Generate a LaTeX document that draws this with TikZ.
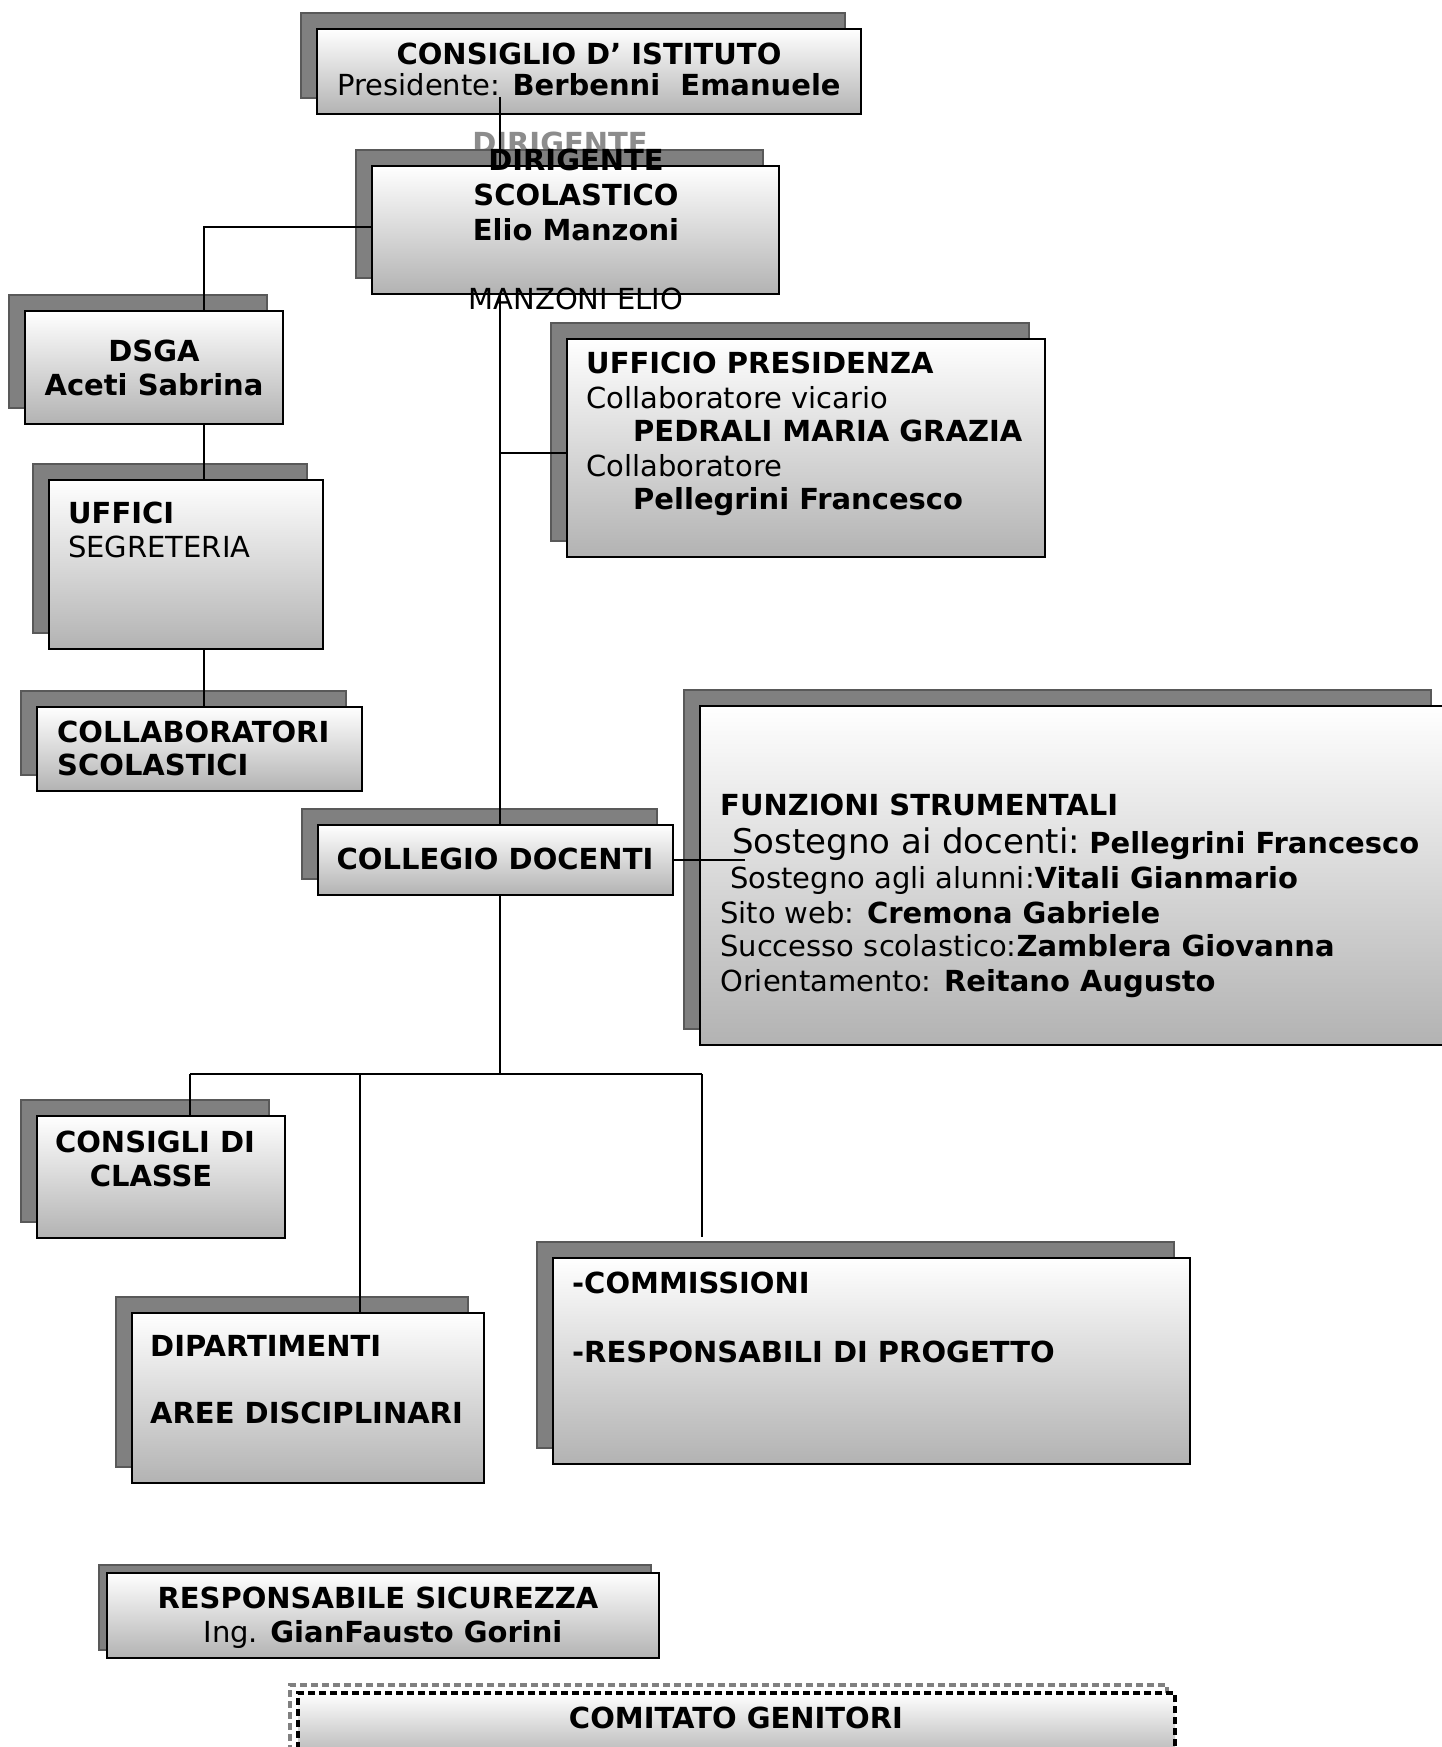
\documentclass[tikz,border=0pt]{standalone}
\usepackage{fontspec}
\setmainfont{DejaVu Sans}
\usetikzlibrary{shadows}
\begin{document}
\begin{tikzpicture}[x=1pt,y=-1pt,
  sbox/.style={rectangle, draw=black, line width=1.6pt, top color=white, bottom color=black!30, inner sep=0pt,
    general shadow={shadow xshift=-16pt, shadow yshift=16pt, fill=black!50, draw=black!65, line width=1.6pt}},
  sboxs/.style={rectangle, draw=black, line width=1.6pt, top color=white, bottom color=black!30, inner sep=0pt,
    general shadow={shadow xshift=-8pt, shadow yshift=8pt, fill=black!50, draw=black!65, line width=1.6pt}},
  dbox/.style={rectangle, draw=black, line width=3.5pt, dash pattern=on 7pt off 4pt, top color=white, bottom color=black!30, inner sep=0pt,
    general shadow={shadow xshift=-8pt, shadow yshift=8pt, draw=black!50, line width=3.5pt, dash pattern=on 7pt off 4pt}},
  link/.style={draw=black, line width=1.8pt},
  tb/.style={font=\fontsize{29}{34}\selectfont\bfseries, inner sep=0pt},
  tr/.style={font=\fontsize{29}{34}\selectfont, inner sep=0pt},
  tbig/.style={font=\fontsize{34}{38}\selectfont, inner sep=0pt}
]
\useasboundingbox (0,0) rectangle (1442,1747);
\fill[white] (0,0) rectangle (1442,1747);

% ghost text behind the dirigente box
\node[tb, text=black!45, anchor=base] (ghost) at (560,154) {DIRIGENTE};

% boxes
\node[sbox, minimum width=544pt, minimum height=85pt] (ci) at (589,71.5) {};
\node[sbox, minimum width=407pt, minimum height=128pt] (ds) at (575.5,230) {};
\node[sbox, minimum width=258pt, minimum height=113pt] (dsga) at (154,367.5) {};
\node[sbox, minimum width=274pt, minimum height=169pt] (uff) at (186,564.5) {};
\node[sbox, minimum width=325pt, minimum height=84pt] (coll) at (199.5,749) {};
\node[sbox, minimum width=478pt, minimum height=218pt] (up) at (806,448) {};
\node[sbox, minimum width=747pt, minimum height=339pt] (fs) at (1073.5,875.5) {};
\node[sbox, minimum width=355pt, minimum height=70pt] (cd) at (495.5,860) {};
\node[sbox, minimum width=248pt, minimum height=122pt] (cc) at (161,1177) {};
\node[sbox, minimum width=352pt, minimum height=170pt] (dip) at (308,1398) {};
\node[sbox, minimum width=637pt, minimum height=206pt] (com) at (871.5,1361) {};
\node[sboxs, minimum width=552pt, minimum height=85pt] (rs) at (383,1615.5) {};
\node[dbox, minimum width=877pt, minimum height=67pt] (cg) at (736.5,1726.5) {};

% coordinates for connectors
\coordinate (c0) at (500,97);
\coordinate (k1) at (204,227);
\coordinate (k2) at (500,453);
\coordinate (fsend) at (745,860);
\coordinate (bar) at (500,1074);
\coordinate (bl) at (190,1074);
\coordinate (bm) at (360,1074);
\coordinate (br) at (702,1074);
\coordinate (comend) at (702,1237);

% connectors
\draw[link] (c0) -- (c0 |- ds.north);
\draw[link] (ds.south -| c0) -- (cd.north -| c0);
\draw[link] (cd.south -| c0) -- (bar);
\draw[link] (ds.west |- k1) -- (k1) -- (k1 |- dsga.north);
\draw[link] (dsga.south -| k1) -- (uff.north -| k1);
\draw[link] (uff.south -| k1) -- (coll.north -| k1);
\draw[link] (k2) -- (k2 -| up.west);
\draw[link] (cd.east) -- (fsend);
\draw[link] (bl) -- (br);
\draw[link] (bl) -- (bl |- cc.north);
\draw[link] (bm) -- (bm |- dip.north);
\draw[link] (br) -- (comend);

% texts
\node[tb, anchor=base] (t1) at (589,65) {CONSIGLIO D’ ISTITUTO};
\node[tr, anchor=base] (t2) at (589,96) {Presidente: \textbf{Berbenni\ \ Emanuele}};

\node[tb, anchor=base] (t3) at (576,171) {DIRIGENTE};
\node[tb, anchor=base] (t4) at (576,205) {SCOLASTICO};
\node[tb, anchor=base] (t5) at (576,240) {Elio Manzoni};
\node[tr, anchor=base] (t6) at (576,309) {MANZONI ELIO};

\node[tb, anchor=base] (t7) at (154,361) {DSGA};
\node[tb, anchor=base] (t8) at (154,395) {Aceti Sabrina};

\node[tb, anchor=base west] (t9) at (68,523) {UFFICI};
\node[tr, anchor=base west] (t10) at (68,557) {SEGRETERIA};

\node[tb, anchor=base west] (t11) at (57,742) {COLLABORATORI};
\node[tb, anchor=base west] (t12) at (57,775) {SCOLASTICI};

\node[tb, anchor=base west] (t13) at (586,373) {UFFICIO PRESIDENZA};
\node[tr, anchor=base west] (t14) at (586,408) {Collaboratore vicario};
\node[tb, anchor=base west] (t15) at (633,441) {PEDRALI MARIA GRAZIA};
\node[tr, anchor=base west] (t16) at (586,476) {Collaboratore};
\node[tb, anchor=base west] (t17) at (633,509) {Pellegrini Francesco};

\node[tb, anchor=base] (t18) at (495,869) {COLLEGIO DOCENTI};

\node[tb, anchor=base west] (t19) at (720,815) {FUNZIONI STRUMENTALI};
\node[tbig, anchor=base west] (t20) at (732,853) {Sostegno ai docenti:\fontsize{29}{34}\selectfont\ \textbf{Pellegrini Francesco}};
\node[tr, anchor=base west] (t21) at (730,888) {Sostegno agli alunni:\textbf{Vitali Gianmario}};
\node[tr, anchor=base west] (t22) at (720,923) {Sito web: \textbf{Cremona Gabriele}};
\node[tr, anchor=base west] (t23) at (720,956) {Successo scolastico:\textbf{Zamblera Giovanna}};
\node[tr, anchor=base west] (t24) at (720,991) {Orientamento: \textbf{Reitano Augusto}};

\node[tb, anchor=base] (t25) at (155,1152) {CONSIGLI DI};
\node[tb, anchor=base] (t26) at (151,1186) {CLASSE};

\node[tb, anchor=base west] (t27) at (150,1356) {DIPARTIMENTI};
\node[tb, anchor=base west] (t28) at (150,1423) {AREE DISCIPLINARI};

\node[tb, anchor=base west] (t29) at (572,1293) {-COMMISSIONI};
\node[tb, anchor=base west] (t30) at (572,1362) {-RESPONSABILI DI PROGETTO};

\node[tb, anchor=base] (t31) at (378,1608) {RESPONSABILE SICUREZZA};
\node[tr, anchor=base] (t32) at (383,1642) {Ing. \textbf{GianFausto Gorini}};

\node[tb, anchor=base] (t33) at (736,1728) {COMITATO GENITORI};
\end{tikzpicture}
\end{document}
